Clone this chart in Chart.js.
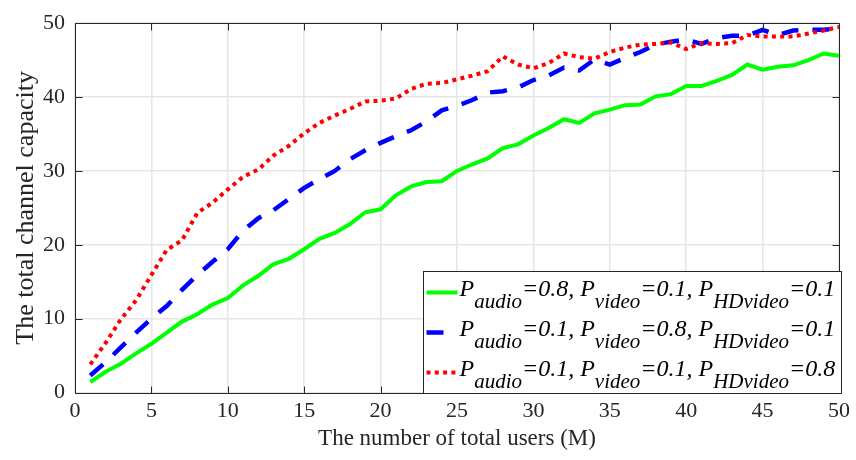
<!DOCTYPE html>
<html>
<head>
<meta charset="utf-8">
<title>Total channel capacity</title>
<script src="https://cdn.jsdelivr.net/npm/chart.js@4.4.0/dist/chart.umd.min.js"></script>
<style>
  html, body { margin: 0; padding: 0; background: #ffffff; }
  #wrap { position: relative; width: 856px; height: 460px; }
</style>
</head>
<body>
<div id="wrap"><canvas id="capacityChart" width="856" height="460"></canvas></div>
<script>
// Data
const users = [1, 2, 3, 4, 5, 6, 7, 8, 9, 10, 11, 12, 13, 14, 15, 16, 17, 18, 19, 20,
               21, 22, 23, 24, 25, 26, 27, 28, 29, 30, 31, 32, 33, 34, 35, 36, 37, 38, 39, 40,
               41, 42, 43, 44, 45, 46, 47, 48, 49, 50];

const capAudio = [1.4, 2.8, 3.9, 5.3, 6.6, 8.1, 9.6, 10.6, 11.9, 12.8,
                  14.5, 15.8, 17.4, 18.1, 19.4, 20.8, 21.6, 22.8, 24.4, 24.8,
                  26.7, 27.9, 28.5, 28.6, 30.0, 30.9, 31.7, 33.1, 33.6, 34.8,
                  35.8, 37.0, 36.5, 37.8, 38.3, 38.9, 39.0, 40.1, 40.4, 41.5,
                  41.5, 42.2, 43.0, 44.4, 43.7, 44.1, 44.3, 45.0, 45.9, 45.6];

const capVideo = [2.3, 4.1, 6.1, 8.1, 10.0, 11.7, 13.9, 15.9, 17.7, 19.4,
                  21.9, 23.6, 24.7, 26.2, 27.7, 28.9, 30.0, 31.6, 32.8, 33.8,
                  34.7, 35.5, 36.7, 38.2, 38.8, 39.6, 40.6, 40.8, 41.3, 42.3,
                  42.9, 44.0, 43.6, 45.1, 44.4, 45.3, 46.1, 47.1, 47.5, 47.8,
                  47.2, 48.0, 48.3, 48.3, 49.1, 48.4, 49.0, 49.1, 49.1, 49.3];

const capHD = [3.8, 6.7, 9.9, 12.5, 15.9, 19.3, 20.6, 24.3, 25.7, 27.5,
               29.2, 30.2, 32.1, 33.4, 35.1, 36.5, 37.5, 38.4, 39.4, 39.5,
               39.8, 41.1, 41.8, 41.9, 42.4, 42.9, 43.5, 45.5, 44.4, 43.9,
               44.6, 45.9, 45.4, 45.2, 46.1, 46.7, 47.1, 47.2, 47.4, 46.5,
               47.3, 47.2, 47.3, 48.4, 48.2, 48.2, 48.2, 48.6, 49.0, 49.5];

// Probabilities shown in the legend
const pAudio = ['0.8', '0.1', '0.1'];
const pVideo = ['0.1', '0.8', '0.1'];
const pHD = ['0.1', '0.1', '0.8'];

const xTicks = [0, 5, 10, 15, 20, 25, 30, 35, 40, 45, 50];
const yTicks = [0, 10, 20, 30, 40, 50];

// Global look
Chart.defaults.font.family = '"Liberation Serif", "Times New Roman", serif';
Chart.defaults.color = '#262626';

const seriesStyles = [
    { color: '#00ff00', width: 4, dash: [] },
    { color: '#0000ff', width: 4.5, dash: [17, 14] },
    { color: '#ff0000', width: 4, dash: [4, 4.3] }
];

function toPoints(values) {
    return users.map((u, i) => ({ x: u, y: values[i] }));
}

// Box and inward ticks, MATLAB style
const axesBox = {
    id: 'axesBox',
    afterDatasetsDraw(chart) {
        const { ctx, chartArea: a, scales } = chart;
        const L = Math.round(a.left) + 0.5, R = Math.round(a.right) + 0.5;
        const T = Math.round(a.top) + 0.5, B = Math.round(a.bottom) + 0.5;
        const tl = 7;
        ctx.save();
        ctx.strokeStyle = '#262626';
        ctx.lineWidth = 1;
        ctx.beginPath();
        ctx.rect(L, T, R - L, B - T);
        xTicks.forEach(v => {
            const px = Math.round(scales.x.getPixelForValue(v)) + 0.5;
            ctx.moveTo(px, B); ctx.lineTo(px, B - tl);
            ctx.moveTo(px, T); ctx.lineTo(px, T + tl);
        });
        yTicks.forEach(v => {
            const py = Math.round(scales.y.getPixelForValue(v)) + 0.5;
            ctx.moveTo(L, py); ctx.lineTo(L + tl, py);
            ctx.moveTo(R, py); ctx.lineTo(R - tl, py);
        });
        ctx.stroke();
        ctx.restore();
    }
};

// Legend with subscripts
function drawRich(ctx, parts, x, y) {
    const mainFont = 'italic 24px "Liberation Serif", "Times New Roman", serif';
    const subFont = 'italic 21px "Liberation Serif", "Times New Roman", serif';
    parts.forEach(p => {
        ctx.font = p.sub ? subFont : mainFont;
        ctx.fillText(p.t, x, p.sub ? y + 12 : y);
        x += ctx.measureText(p.t).width;
    });
}

const richLegend = {
    id: 'richLegend',
    afterDraw(chart) {
        const { ctx, chartArea: a } = chart;
        const left = Math.round(a.right) - 416 + 0.5;
        const right = Math.round(a.right) + 2.5;
        const top = Math.round(a.bottom) - 122 + 0.5;
        const bottom = Math.round(a.bottom) + 0.5;
        ctx.save();
        ctx.fillStyle = '#ffffff';
        ctx.fillRect(left, top, right - left, bottom - top);
        ctx.strokeStyle = '#262626';
        ctx.lineWidth = 1;
        ctx.strokeRect(left, top, right - left, bottom - top);

        seriesStyles.forEach((s, i) => {
            const base = top + 24 + 40 * i;
            ctx.strokeStyle = s.color;
            ctx.lineWidth = s.width;
            ctx.setLineDash(s.dash);
            ctx.beginPath();
            ctx.moveTo(left + 3, base - 3);
            ctx.lineTo(left + 34, base - 3);
            ctx.stroke();
            ctx.setLineDash([]);

            ctx.fillStyle = '#000000';
            ctx.textBaseline = 'alphabetic';
            ctx.textAlign = 'left';
            drawRich(ctx, [
                { t: 'P' }, { t: 'audio', sub: true },
                { t: '=' + pAudio[i] + ', P' }, { t: 'video', sub: true },
                { t: '=' + pVideo[i] + ', P' }, { t: 'HDvideo', sub: true },
                { t: '=' + pHD[i] }
            ], left + 36, base);
        });
        ctx.restore();
    }
};

const ctx = document.getElementById('capacityChart');

new Chart(ctx, {
    type: 'line',
    data: {
        datasets: [capAudio, capVideo, capHD].map((vals, i) => ({
            label: 'P_audio=' + pAudio[i] + ', P_video=' + pVideo[i] + ', P_HDvideo=' + pHD[i],
            data: toPoints(vals),
            borderColor: seriesStyles[i].color,
            borderWidth: seriesStyles[i].width,
            borderDash: seriesStyles[i].dash,
            pointRadius: 0,
            fill: false,
            tension: 0,
            order: 2 - i
        }))
    },
    options: {
        responsive: false,
        animation: false,
        layout: { padding: { top: 18, right: 15, left: 0, bottom: 0 } },
        plugins: {
            legend: { display: false },
            tooltip: { enabled: false }
        },
        scales: {
            x: {
                type: 'linear',
                min: 0,
                max: 50,
                afterBuildTicks: s => { s.ticks = xTicks.map(v => ({ value: v })); },
                afterFit: s => { s.height = 67.5; },
                grid: { color: '#e6e6e6', lineWidth: 1.5, drawTicks: false },
                border: { display: false },
                ticks: { font: { size: 22 }, padding: 6, maxRotation: 0, autoSkip: false },
                title: {
                    display: true,
                    text: 'The number of total users (M)',
                    font: { size: 23 },
                    padding: { top: 0, bottom: 7 }
                }
            },
            y: {
                type: 'linear',
                min: 0,
                max: 50,
                afterBuildTicks: s => { s.ticks = yTicks.map(v => ({ value: v })); },
                afterFit: s => { s.width = 75; },
                grid: { color: '#e6e6e6', lineWidth: 1.5, drawTicks: false },
                border: { display: false },
                ticks: { font: { size: 22 }, padding: 10, autoSkip: false },
                title: {
                    display: true,
                    text: 'The total channel capacity',
                    font: { size: 26 },
                    padding: { top: 11, bottom: 0 }
                }
            }
        }
    },
    plugins: [axesBox, richLegend]
});
</script>
</body>
</html>
